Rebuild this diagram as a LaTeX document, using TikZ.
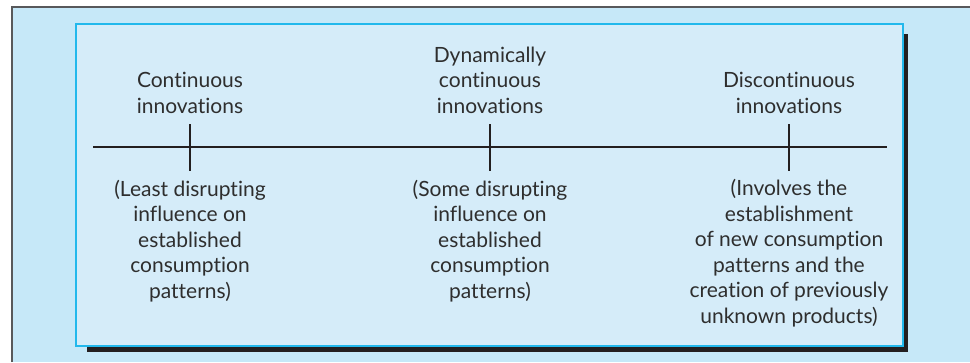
\documentclass[tikz,border=0pt]{standalone}
\usepackage{fontspec}
\setmainfont{Lato}[Ligatures={NoCommon,NoContextual}]
\definecolor{outerbg}{HTML}{C6E8F8}
\definecolor{innerbg}{HTML}{D5ECF9}
\definecolor{framecyan}{HTML}{22B8EC}
\definecolor{inkdark}{HTML}{231F20}
\definecolor{textc}{HTML}{2E2E2E}
\definecolor{framegray}{HTML}{58595B}
\tikzset{
  lbl/.style={align=center, inner sep=0pt, text=textc, font=\fontsize{21}{25.5}\selectfont, anchor=base},
  axisline/.style={draw=inkdark, line width=2.2pt},
}
\begin{document}
\begin{tikzpicture}[x=1pt,y=-1pt]
\useasboundingbox (0,0) rectangle (970,362);
\fill[outerbg] (12,7) rectangle (970,362);
\draw[framegray, line width=2pt] (12,362) -- (12,7) -- (970,7);
\fill[inkdark] (87,34) rectangle (908,352);
\filldraw[fill=innerbg, draw=framecyan, line width=1.2pt] (76,24) rectangle (903,346);
\coordinate (L) at (93,147);
\coordinate (R) at (887,147);
\draw[axisline] (L) -- (R);
\coordinate (t1a) at (190,124); \coordinate (t1b) at (190,171);
\coordinate (t2a) at (490,124); \coordinate (t2b) at (490,171);
\coordinate (t3a) at (789,124); \coordinate (t3b) at (789,171);
\draw[axisline] (t1a) -- (t1b);
\draw[axisline] (t2a) -- (t2b);
\draw[axisline] (t3a) -- (t3b);
% anchor=base is the baseline of the last line
\node[lbl] (top1) at (190,113) {Continuous\\innovations};
\node[lbl] (top2) at (490,113) {Dynamically\\continuous\\innovations};
\node[lbl] (top3) at (789,113) {Discontinuous\\innovations};
\node[lbl] (bot1) at (190,298) {(Least disrupting\\influence on\\established\\consumption\\patterns)};
\node[lbl] (bot2) at (490,298) {(Some disrupting\\influence on\\established\\consumption\\patterns)};
\node[lbl] (bot3) at (789,323) {(Involves the\\establishment\\of new consumption\\patterns and the\\creation of previously\\unknown products)};
\end{tikzpicture}
\end{document}
